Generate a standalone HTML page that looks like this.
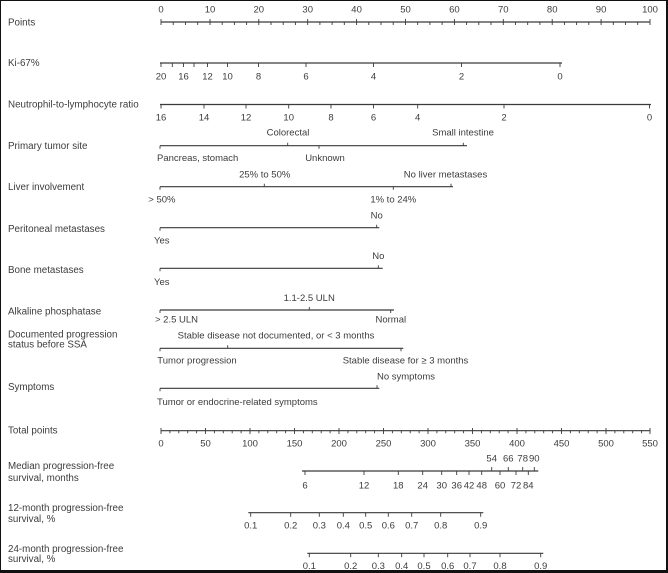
<!DOCTYPE html>
<html><head><meta charset="utf-8"><style>
html,body{margin:0;padding:0;background:#fff;}
.wrap{position:relative;width:668px;height:573px;overflow:hidden;background:#fff;}
.b{position:absolute;left:0;top:0;width:668px;height:573px;box-sizing:border-box;border-top:1px solid #111;border-left:1px solid #111;border-right:2px solid #111;border-bottom:3px solid #111;pointer-events:none;}
svg{position:absolute;left:0;top:0;}
text{font-family:"Liberation Sans",Arial,sans-serif;font-size:9.5px;fill:#3c3c3c;}
.l{font-size:9.8px;}
</style></head><body><div class="wrap">
<svg width="668" height="573" viewBox="0 0 668 573" xmlns="http://www.w3.org/2000/svg">
<g stroke="#3a3a3a" stroke-width="1.2" fill="none" id="lines">
<line x1="161" y1="22" x2="650" y2="22"/>
<line x1="160" y1="63" x2="562" y2="63"/>
<line x1="160" y1="104.5" x2="651" y2="104.5"/>
<line x1="160" y1="145.7" x2="467" y2="145.7"/>
<line x1="160" y1="186.7" x2="453" y2="186.7"/>
<line x1="160" y1="227.7" x2="379.3" y2="227.7"/>
<line x1="160" y1="268.3" x2="382.7" y2="268.3"/>
<line x1="160" y1="310" x2="394" y2="310"/>
<line x1="160" y1="348.3" x2="403.3" y2="348.3"/>
<line x1="160" y1="388.3" x2="379.3" y2="388.3"/>
<line x1="161" y1="430.7" x2="650" y2="430.7"/>
<line x1="302" y1="471" x2="538.3" y2="471"/>
<line x1="248.3" y1="512.7" x2="483.3" y2="512.7"/>
<line x1="307.3" y1="553.3" x2="543.3" y2="553.3"/>
</g>
<g stroke="#3a3a3a" stroke-width="0.9" id="ticks">
<!-- Points ticks -->
<path d="M161 19v6M173.2 22v3M185.5 22v3M197.7 22v3M210 19v6M222.2 22v3M234.4 22v3M246.6 22v3M258.8 19v6M271 22v3M283.2 22v3M295.4 22v3M307.7 19v6M319.9 22v3M332.1 22v3M344.3 22v3M356.6 19v6M368.8 22v3M381 22v3M393.2 22v3M405.5 19v6M417.7 22v3M429.9 22v3M442.1 22v3M454.4 19v6M466.6 22v3M478.8 22v3M491 22v3M503.3 19v6M515.5 22v3M527.7 22v3M539.9 22v3M552.2 19v6M564.4 22v3M576.6 22v3M588.8 22v3M601.1 19v6M613.3 22v3M625.5 22v3M637.7 22v3M650 19v6"/>
<!-- Ki-67 ticks -->
<path d="M161 63v4M172.3 63v4M183.5 63v4M194 63v4M207.5 63v4M227.5 63v4M258.5 63v4M306 63v4M373.5 63v4M461.5 63v4M560 63v4"/>
<!-- NLR ticks -->
<path d="M161 104.5v4M204 104.5v4M246 104.5v4M288.7 104.5v4M331 104.5v4M373.5 104.5v4M417.7 104.5v4M504 104.5v4M649.5 104.5v4"/>
<!-- categorical -->
<path d="M160 145.7v3M287.7 145.7v-3M319 145.7v3M463.3 145.7v-3"/>
<path d="M160 186.7v3M264.3 186.7v-3M393.3 186.7v3M451 186.7v-3"/>
<path d="M160 227.7v3M376.7 227.7v-3"/>
<path d="M160 268.3v3M378.3 268.3v-3"/>
<path d="M160 310v3M309.3 310v-3M390.7 310v3"/>
<path d="M160 348.3v3M227.7 348.3v-3M401 348.3v3"/>
<path d="M160 388.3v3M377 388.3v-3"/>
<!-- total points ticks -->
<path d="M161 428v6M169.9 430.7v2.5M178.8 430.7v2.5M187.7 430.7v2.5M196.6 430.7v2.5M205.5 428v6M214.4 430.7v2.5M223.3 430.7v2.5M232.2 430.7v2.5M241.1 430.7v2.5M250 428v6M258.9 430.7v2.5M267.8 430.7v2.5M276.7 430.7v2.5M285.6 430.7v2.5M294.5 428v6M303.4 430.7v2.5M312.3 430.7v2.5M321.2 430.7v2.5M330.1 430.7v2.5M339 428v6M347.9 430.7v2.5M356.8 430.7v2.5M365.7 430.7v2.5M374.6 430.7v2.5M383.5 428v6M392.4 430.7v2.5M401.3 430.7v2.5M410.2 430.7v2.5M419.1 430.7v2.5M428 428v6M436.9 430.7v2.5M445.8 430.7v2.5M454.7 430.7v2.5M463.6 430.7v2.5M472.5 428v6M481.4 430.7v2.5M490.3 430.7v2.5M499.2 430.7v2.5M508.1 430.7v2.5M517 428v6M525.9 430.7v2.5M534.8 430.7v2.5M543.7 430.7v2.5M552.6 430.7v2.5M561.5 428v6M570.4 430.7v2.5M579.3 430.7v2.5M588.2 430.7v2.5M597.1 430.7v2.5M606 428v6M614.9 430.7v2.5M623.8 430.7v2.5M632.7 430.7v2.5M641.6 430.7v2.5M650 428v6"/>
<!-- median PFS -->
<path d="M305 471v4M364 471v4M398.3 471v4M422.7 471v4M441.7 471v4M456.7 471v4M469 471v4M481.7 471v4M500 471v4M516 471v4M528.3 471v4M491.7 471v-4M508.3 471v-4M522.7 471v-4M534.3 471v-4"/>
<!-- 12-month -->
<path d="M250.7 512.7v4M290.7 512.7v4M319.3 512.7v4M343.3 512.7v4M365.7 512.7v4M388.3 512.7v4M411.7 512.7v4M440.7 512.7v4M480.7 512.7v4"/>
<!-- 24-month -->
<path d="M309.3 553.3v4M350.7 553.3v4M378.3 553.3v4M401.7 553.3v4M424 553.3v4M447.7 553.3v4M470 553.3v4M500 553.3v4M540.7 553.3v4"/>
</g>

<!-- left labels -->
<g class="l">
<text class="l" x="8" y="25.5">Points</text>
<text class="l" x="8" y="66.2">Ki-67%</text>
<text class="l" x="8" y="107.5">Neutrophil-to-lymphocyte ratio</text>
<text class="l" x="8" y="149.2">Primary tumor site</text>
<text class="l" x="8" y="190.2">Liver involvement</text>
<text class="l" x="8" y="231.8">Peritoneal metastases</text>
<text class="l" x="8" y="272.8">Bone metastases</text>
<text class="l" x="8" y="314.5">Alkaline phosphatase</text>
<text class="l" x="8" y="337.5">Documented progression</text>
<text class="l" x="8" y="347.5">status before SSA</text>
<text class="l" x="8" y="390.2">Symptoms</text>
<text class="l" x="8" y="433.5">Total points</text>
<text class="l" x="8" y="469.2">Median progression-free</text>
<text class="l" x="8" y="480.8">survival, months</text>
<text class="l" x="8" y="510.8">12-month progression-free</text>
<text class="l" x="8" y="521.8">survival, %</text>
<text class="l" x="8" y="551.8">24-month progression-free</text>
<text class="l" x="8" y="561.8">survival, %</text>
</g>

<!-- Points labels -->
<g text-anchor="middle">
<text x="161" y="12.7">0</text><text x="210" y="12.7">10</text><text x="258.8" y="12.7">20</text><text x="307.7" y="12.7">30</text><text x="356.6" y="12.7">40</text><text x="405.5" y="12.7">50</text><text x="454.4" y="12.7">60</text><text x="503.3" y="12.7">70</text><text x="552.2" y="12.7">80</text><text x="601.1" y="12.7">90</text><text x="650" y="12.7">100</text>
<!-- Ki-67 -->
<text x="161" y="79.3">20</text><text x="183.5" y="79.3">16</text><text x="207.5" y="79.3">12</text><text x="227.5" y="79.3">10</text><text x="258.5" y="79.3">8</text><text x="306" y="79.3">6</text><text x="373.5" y="79.3">4</text><text x="461.5" y="79.3">2</text><text x="560" y="79.3">0</text>
<!-- NLR -->
<text x="161" y="120.7">16</text><text x="204" y="120.7">14</text><text x="246" y="120.7">12</text><text x="288.7" y="120.7">10</text><text x="331" y="120.7">8</text><text x="373.5" y="120.7">6</text><text x="417.7" y="120.7">4</text><text x="504" y="120.7">2</text><text x="649.5" y="120.7">0</text>
<!-- Primary tumor -->
<text x="288" y="135.7">Colorectal</text>
<text x="463" y="135.7">Small intestine</text>
<text x="325" y="161">Unknown</text>
<!-- Liver -->
<text x="264.7" y="177.4">25% to 50%</text>
<text x="445.5" y="177.4">No liver metastases</text>
<text x="393.3" y="202.4">1% to 24%</text>
<!-- Peritoneal -->
<text x="376.7" y="218.4">No</text>
<!-- Bone -->
<text x="378.3" y="259">No</text>
<!-- Alk -->
<text x="309.2" y="301">1.1-2.5 ULN</text>
<text x="390.8" y="322.7">Normal</text>
<!-- Documented -->
<text x="276" y="338.4">Stable disease not documented, or &lt; 3 months</text>
<text x="405.5" y="363.4">Stable disease for ≥ 3 months</text>
<!-- Symptoms -->
<text x="406" y="379.4">No symptoms</text>
<!-- Total points -->
<text x="161" y="446.4">0</text><text x="205.5" y="446.4">50</text><text x="250" y="446.4">100</text><text x="294.5" y="446.4">150</text><text x="339" y="446.4">200</text><text x="383.5" y="446.4">250</text><text x="428" y="446.4">300</text><text x="472.5" y="446.4">350</text><text x="517" y="446.4">400</text><text x="561.5" y="446.4">450</text><text x="606" y="446.4">500</text><text x="650" y="446.4">550</text>
<!-- Median PFS -->
<text x="305" y="488.4">6</text><text x="364" y="488.4">12</text><text x="398.3" y="488.4">18</text><text x="422.7" y="488.4">24</text><text x="441.7" y="488.4">30</text><text x="456.7" y="488.4">36</text><text x="469" y="488.4">42</text><text x="481.7" y="488.4">48</text><text x="500" y="488.4">60</text><text x="516" y="488.4">72</text><text x="528.3" y="488.4">84</text>
<text x="491.7" y="461.7">54</text><text x="508.3" y="461.7">66</text><text x="522.7" y="461.7">78</text><text x="534.3" y="461.7">90</text>
<!-- 12-month -->
<text x="250.7" y="528.4">0.1</text><text x="290.7" y="528.4">0.2</text><text x="319.3" y="528.4">0.3</text><text x="343.3" y="528.4">0.4</text><text x="365.7" y="528.4">0.5</text><text x="388.3" y="528.4">0.6</text><text x="411.7" y="528.4">0.7</text><text x="440.7" y="528.4">0.8</text><text x="480.7" y="528.4">0.9</text>
<!-- 24-month -->
<text x="309.3" y="569">0.1</text><text x="350.7" y="569">0.2</text><text x="378.3" y="569">0.3</text><text x="401.7" y="569">0.4</text><text x="424" y="569">0.5</text><text x="447.7" y="569">0.6</text><text x="470" y="569">0.7</text><text x="500" y="569">0.8</text><text x="540.7" y="569">0.9</text>
</g>
<!-- left-aligned category labels -->
<text x="157" y="161">Pancreas, stomach</text>
<text x="148.3" y="202.4">&gt; 50%</text>
<text x="154" y="243.4">Yes</text>
<text x="154" y="285">Yes</text>
<text x="155" y="322.7">&gt; 2.5 ULN</text>
<text x="157.3" y="363.4">Tumor progression</text>
<text x="157" y="405">Tumor or endocrine-related symptoms</text>
</svg>
<div class="b"></div>
</div></body></html>
